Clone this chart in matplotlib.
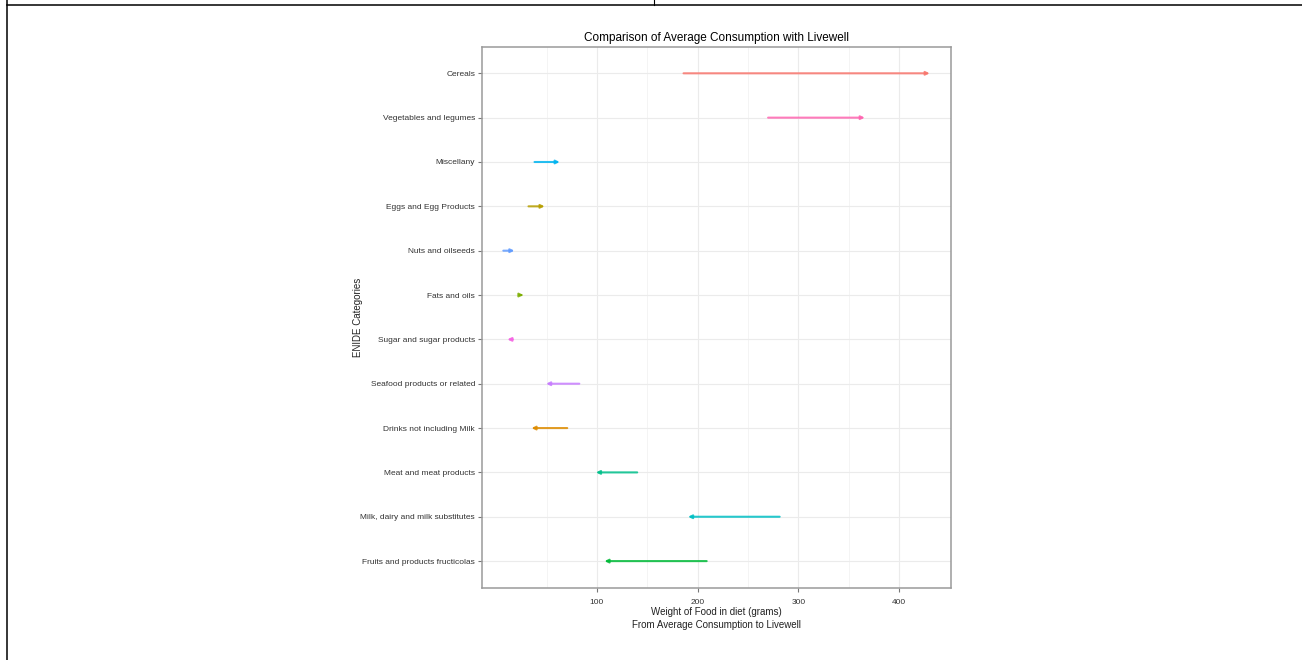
import matplotlib.pyplot as plt
from matplotlib.lines import Line2D

plt.rcParams['font.family'] = ['Liberation Sans', 'DejaVu Sans']

# ENIDE categories, top to bottom
categories = ['Cereals', 'Vegetables and legumes', 'Miscellany', 'Eggs and Egg Products',
              'Nuts and oilseeds', 'Fats and oils', 'Sugar and sugar products',
              'Seafood products or related', 'Drinks not including Milk',
              'Meat and meat products', 'Milk, dairy and milk substitutes',
              'Fruits and products fructicolas']
# grams: average consumption -> livewell
average = [186, 270, 38, 32, 7, 23.5, 16.5, 82.5, 70.5, 140, 281.5, 209]
livewell = [430.5, 366, 63, 48, 18, 27, 11, 49.5, 35, 99, 190.5, 107.5]

# ggplot hue palette, alphabetical category order
hue = ['#F8766D', '#DE8C00', '#B79F00', '#7CAE00', '#00BA38', '#00C08B',
       '#00BFC4', '#00B4F0', '#619CFF', '#C77CFF', '#F564E3', '#FF64B0']
colors = dict(zip(sorted(categories), hue))

fig = plt.figure(figsize=(13.02, 6.6), dpi=100)
ax = fig.add_axes([482 / 1302, 1 - 587.7 / 660, 469 / 1302, 541 / 660])

for i, cat in enumerate(categories):
    ax.annotate('', xy=(livewell[i], i), xytext=(average[i], i),
                arrowprops=dict(arrowstyle='-|>', color=colors[cat], lw=1.5,
                                mutation_scale=5, shrinkA=0, shrinkB=0, alpha=0.85))

lo = min(average + livewell)
hi = max(average + livewell)
pad = (hi - lo) * 0.05
ax.set_xlim(lo - pad, hi + pad)
ax.set_ylim(len(categories) - 0.4, -0.6)

ax.set_xticks([100, 200, 300, 400])
ax.set_xticks([50, 150, 250, 350], minor=True)
ax.set_yticks(range(len(categories)))
ax.set_yticklabels(categories)

ax.grid(which='major', color='#ebebeb', lw=0.8)
ax.grid(which='minor', axis='x', color='#f3f3f3', lw=0.6)
ax.set_axisbelow(True)
ax.tick_params(which='major', labelsize=6, length=3, width=0.8, color='#777777',
               labelcolor='#333333')
ax.tick_params(axis='x', pad=5)
ax.tick_params(axis='y', pad=2)
ax.tick_params(which='minor', length=0)
for s in ax.spines.values():
    s.set_color('#9a9a9a')
    s.set_linewidth(1.1)

ax.set_title('Comparison of Average Consumption with Livewell', fontsize=8.5, pad=4)
ax.set_xlabel('Weight of Food in diet (grams)\nFrom Average Consumption to Livewell',
              fontsize=7, labelpad=0.5, linespacing=1.45, color='#222222')
ax.set_ylabel('ENIDE Categories', fontsize=7, labelpad=-2, color='#222222')

# notebook frame lines
fig.add_artist(Line2D([6.5 / 1302, 6.5 / 1302], [0, 1], color='black', lw=1.1))
fig.add_artist(Line2D([6.5 / 1302, 1], [1 - 4.5 / 660, 1 - 4.5 / 660], color='black', lw=1.1))
fig.add_artist(Line2D([654 / 1302, 654 / 1302], [1 - 4.5 / 660, 1], color='black', lw=0.8))

fig.savefig('out.png', dpi=100)
